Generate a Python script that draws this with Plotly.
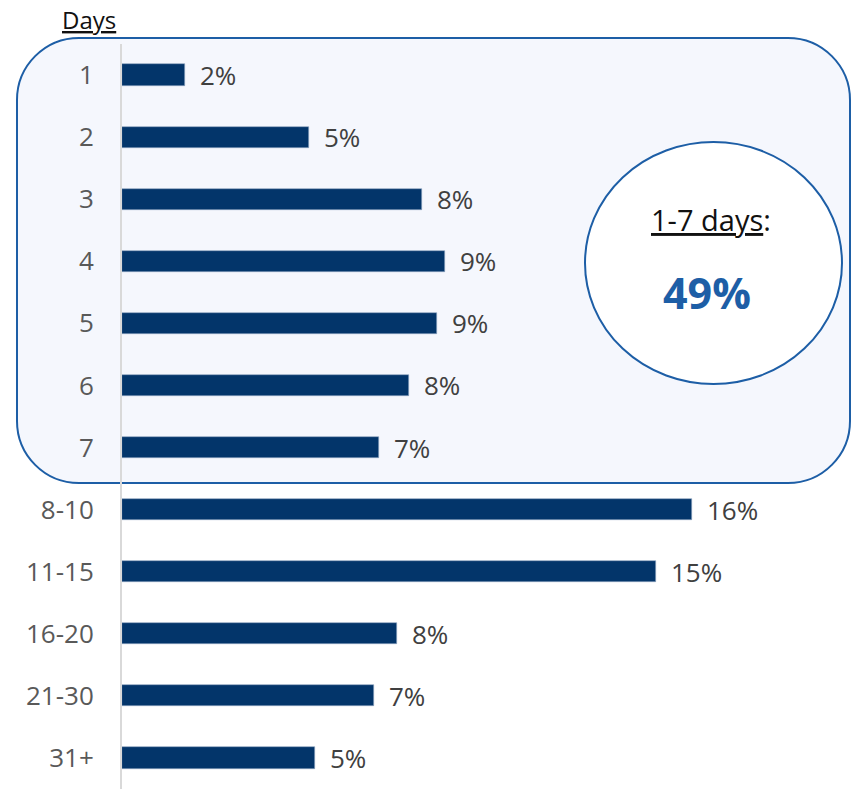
import plotly.graph_objects as go

# ---- data ----
categories = ["1", "2", "3", "4", "5", "6", "7", "8-10", "11-15", "16-20", "21-30", "31+"]
values = [1.77, 5.25, 8.42, 9.07, 8.84, 8.06, 7.21, 16.0, 14.99, 7.72, 7.07, 5.42]
labels = ["2%", "5%", "8%", "9%", "9%", "8%", "7%", "16%", "15%", "8%", "7%", "5%"]
summary_label = "1-7 days"
summary_value = "49%"

W, H = 858, 789
BAR = "#03356A"
BLUE = "#1D5EA6"
FONT = "Open Sans"

def px(x):
    return x / W

def py(y):
    return 1 - y / H

fig = go.Figure()
fig.add_trace(go.Bar(
    x=values, y=categories, orientation="h",
    marker=dict(color=BAR, line=dict(color="#8FA6C1", width=0.6)),
    width=0.34, hoverinfo="skip",
))

# value labels next to bars (y = category index on the category axis)
annotations = []
for i, (v, t) in enumerate(zip(values, labels)):
    annotations.append(dict(
        x=v, y=i, xref="x", yref="y", text=t, showarrow=False,
        xanchor="left", yanchor="middle", xshift=13,
        font=dict(family=FONT, size=26, color="#404040"),
    ))

# rounded highlight box (pixel geometry -> paper)
x0, y0, x1, y1, r = 17, 38, 850, 483, 62
k = 0.5523 * r
def P(x, y):
    return f"{px(x):.5f},{py(y):.5f}"
path = (
    f"M {P(x0 + r, y0)} L {P(x1 - r, y0)} "
    f"C {P(x1 - r + k, y0)} {P(x1, y0 + r - k)} {P(x1, y0 + r)} "
    f"L {P(x1, y1 - r)} "
    f"C {P(x1, y1 - r + k)} {P(x1 - r + k, y1)} {P(x1 - r, y1)} "
    f"L {P(x0 + r, y1)} "
    f"C {P(x0 + r - k, y1)} {P(x0, y1 - r + k)} {P(x0, y1 - r)} "
    f"L {P(x0, y0 + r)} "
    f"C {P(x0, y0 + r - k)} {P(x0 + r - k, y0)} {P(x0 + r, y0)} Z"
)
shapes = [
    dict(type="path", path=path, xref="paper", yref="paper", layer="below",
         fillcolor="#F5F7FD", line=dict(color=BLUE, width=2)),
    dict(type="circle", xref="paper", yref="paper", layer="above",
         x0=px(585), x1=px(842), y0=py(384), y1=py(142),
         fillcolor="white", line=dict(color=BLUE, width=2)),
]

annotations += [
    dict(x=px(711), y=py(220), xref="paper", yref="paper", showarrow=False,
         text=f"<u>{summary_label}</u>:", xanchor="center", yanchor="middle",
         font=dict(family=FONT, size=29, color="#111111")),
    dict(x=px(707), y=py(292), xref="paper", yref="paper", showarrow=False,
         text=f"<b>{summary_value}</b>", xanchor="center", yanchor="middle",
         font=dict(family=FONT, size=43, color=BLUE)),
    dict(x=px(89), y=py(19), xref="paper", yref="paper", showarrow=False,
         text="<u>Days</u>", xanchor="center", yanchor="middle",
         font=dict(family=FONT, size=24, color="#111111")),
]

fig.update_layout(
    width=W, height=H,
    margin=dict(l=0, r=0, t=0, b=0),
    paper_bgcolor="white", plot_bgcolor="rgba(0,0,0,0)",
    showlegend=False,
    shapes=shapes, annotations=annotations,
    bargap=0,
    xaxis=dict(domain=[px(122), 1], range=[0, 736 / 35.625],
               showgrid=False, zeroline=False, showticklabels=False, showline=False),
    yaxis=dict(type="category", domain=[0, py(44)], categoryorder="array",
               categoryarray=categories,
               range=[11.5, -0.5], showgrid=False, zeroline=False,
               showline=True, linecolor="#D9D9D9", linewidth=2,
               ticks="", ticklabelstandoff=21,
               tickfont=dict(family=FONT, size=26, color="#595959")),
)

fig.write_html("out.html", config={"displayModeBar": False},
               post_script="document.body.style.margin='0';")
